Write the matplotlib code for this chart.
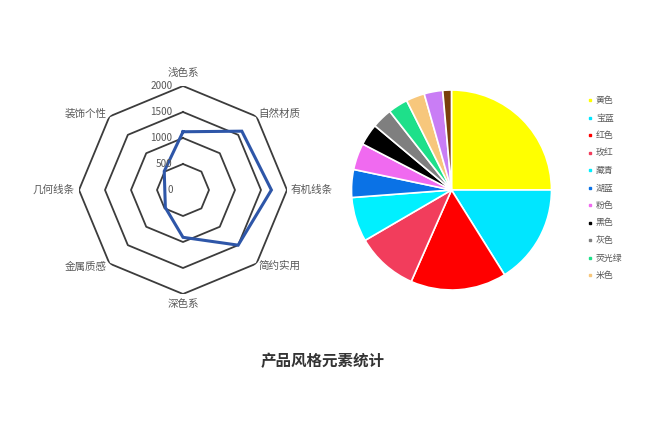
import numpy as np
import matplotlib
matplotlib.use("Agg")
import matplotlib.pyplot as plt

plt.rcParams['font.family'] = ['Noto Sans CJK SC', 'DejaVu Sans']

# ---------------- data ----------------
radar_categories = ['浅色系', '自然材质', '有机线条', '简约实用', '深色系', '金属质感', '几何线条', '装饰个性']
radar_values = [1120, 1600, 1700, 1500, 910, 480, 350, 510]
radar_levels = [500, 1000, 1500, 2000]
radar_tick_labels = ['0', '500', '1000', '1500', '2000']
radar_tick_values = [0, 500, 1000, 1500, 2000]

pie_labels = ['黄色', '宝蓝', '红色', '玫红', '藏青', '湖蓝', '粉色', '黑色', '灰色', '荧光绿', '米色', '紫色', '棕色']
pie_values = [25.0, 16.1, 15.5, 10.0, 7.2, 4.5, 4.3, 3.5, 3.3, 3.2, 3.0, 3.0, 1.4]
pie_colors = ['#FFFF00', '#00E6FF', '#FF0000', '#F23D5C', '#00F0FF', '#0A72E6', '#F06AF0',
              '#000000', '#7F7F7F', '#1EE08A', '#F7C77C', '#C97DF5', '#7A3F0A']
legend_count = 11

title = '产品风格元素统计'

W, H = 660, 440
fig = plt.figure(figsize=(W / 100, H / 100), dpi=100)
fig.patch.set_facecolor('white')

# ---------------- radar ----------------
cx, cy, R = 183, 190, 104
ax = fig.add_axes([(cx - R) / W, (H - cy - R) / H, 2 * R / W, 2 * R / H], projection='polar')
ax.set_theta_zero_location('N')
ax.set_theta_direction(-1)
ax.set_ylim(0, 2000)
ax.set_axis_off()

n = len(radar_categories)
theta = np.arange(n) * 2 * np.pi / n
theta_c = np.append(theta, theta[0])

for lv in radar_levels:
    ax.plot(theta_c, [lv] * (n + 1), color='#3C3C3C', lw=1.3, zorder=1)

vals = np.append(radar_values, radar_values[0])
ax.plot(theta_c, vals, color='#2E56A8', lw=2.2, zorder=3, solid_joinstyle='miter')

for lab, tv in zip(radar_tick_labels, radar_tick_values):
    ax.annotate(lab, xy=(0, tv), xytext=(-7.5, 0), textcoords='offset points',
                ha='right', va='center', fontsize=7.2, color='#595959', zorder=4)

label_color = '#595959'
for i, (t, lab) in enumerate(zip(theta, radar_categories)):
    deg = np.degrees(t)
    if i == 0:
        ax.text(t, 2150, lab, ha='center', va='bottom', fontsize=7.6, color=label_color)
    elif i == 4:
        ax.text(t, 2100, lab, ha='center', va='top', fontsize=7.6, color=label_color)
    elif 0 < deg < 180:
        ax.text(t, 2060, lab, ha='left', va='center', fontsize=7.6, color=label_color)
    else:
        ax.text(t, 2080, lab, ha='right', va='center', fontsize=7.6, color=label_color)

# ---------------- pie ----------------
pcx, pcy, PR = 451.5, 190, 100
axp = fig.add_axes([(pcx - PR) / W, (H - pcy - PR) / H, 2 * PR / W, 2 * PR / H])
axp.pie(pie_values, colors=pie_colors, startangle=90, counterclock=False, radius=1,
        wedgeprops=dict(edgecolor='white', linewidth=1.2))
axp.set_xlim(-1, 1)
axp.set_ylim(-1, 1)
axp.set_axis_off()

# ---------------- legend ----------------
lx0, ly0, row_h = 590, 100.5, 17.5
axl = fig.add_axes([0, 0, 1, 1], facecolor='none')
axl.set_xlim(0, W)
axl.set_ylim(H, 0)
axl.set_axis_off()
for i in range(legend_count):
    y = ly0 + i * row_h
    axl.plot([lx0], [y], marker='s', markersize=2.1, color=pie_colors[i], linestyle='none')
    axl.text(lx0 + 6, y, pie_labels[i], ha='left', va='center', fontsize=6.4, color='#595959')

# ---------------- title ----------------
fig.text(322.5 / W, 1 - 361 / H, title, ha='center', va='center', fontsize=11.2,
         fontweight='bold', color='#333333')

fig.savefig('out.png', dpi=100, facecolor='white')
